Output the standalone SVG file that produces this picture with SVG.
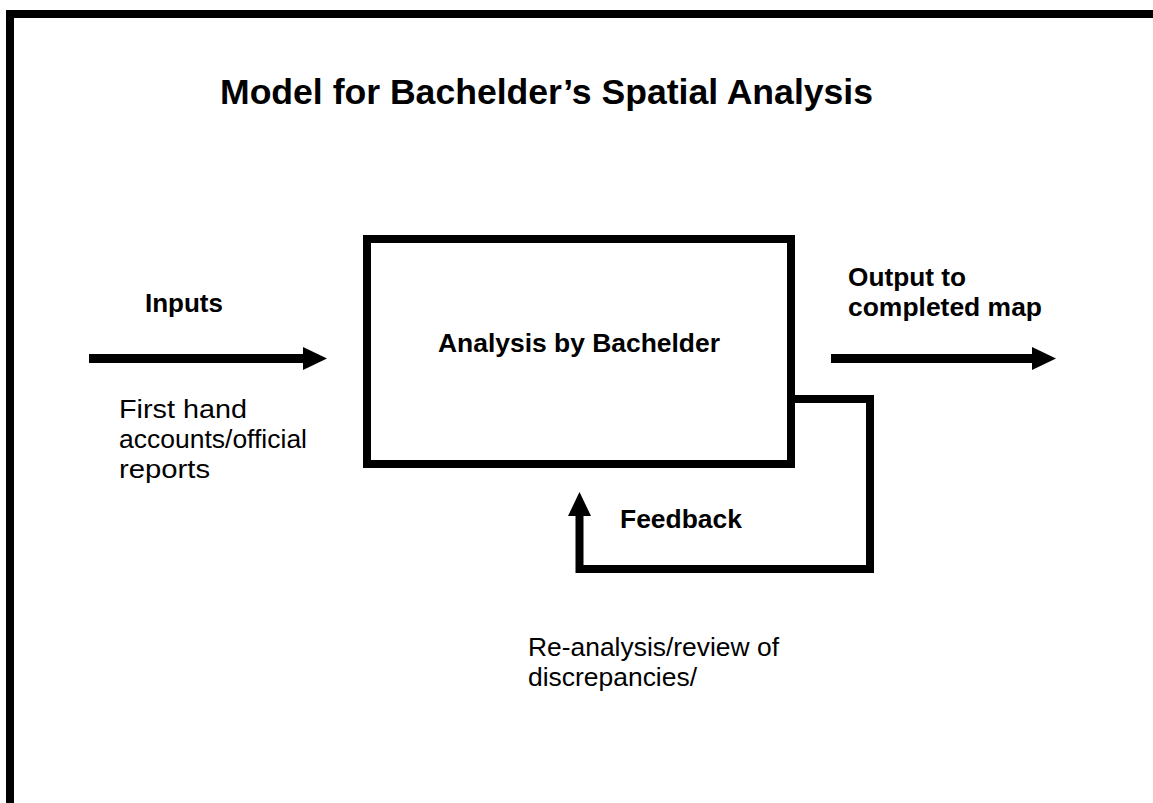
<svg xmlns="http://www.w3.org/2000/svg" width="1153" height="803" viewBox="0 0 1153 803">
  <style>
    .frame { fill: #000; }
    .box { fill: #fff; stroke: #000; stroke-width: 8; }
    .flow { fill: none; stroke: #000; stroke-width: 9; }
    .loop { fill: none; stroke: #000; stroke-width: 8; stroke-linejoin: miter; }
    .bold { font-family: "Liberation Sans", Arial, sans-serif; font-weight: bold; fill: #000; font-size: 26px; }
    .plain { font-family: "Liberation Sans", Arial, sans-serif; font-weight: normal; fill: #000; font-size: 26px; }
    .heading { font-family: "Liberation Sans", Arial, sans-serif; font-weight: bold; fill: #000; font-size: 35px; }
  </style>
  <defs>
    <marker id="head" markerUnits="userSpaceOnUse" markerWidth="24" markerHeight="24" refX="12" refY="12" orient="auto">
      <path d="M0,0.5 L24,12 L0,23.5 Z" fill="#000"/>
    </marker>
  </defs>

  <rect width="1153" height="803" fill="#fff"/>

  <!-- page frame: top and left rules -->
  <g id="frame">
    <rect class="frame" x="6" y="10" width="1147" height="8"/>
    <rect class="frame" x="6" y="10" width="8" height="793"/>
  </g>

  <g id="title">
    <text class="heading" x="220" y="104" textLength="653" lengthAdjust="spacingAndGlyphs">Model for Bachelder’s Spatial Analysis</text>
  </g>

  <g id="analysis">
    <rect class="box" x="367" y="239" width="424" height="225"/>
    <text class="bold" x="438" y="352" textLength="282" lengthAdjust="spacingAndGlyphs">Analysis by Bachelder</text>
  </g>

  <g id="inputs">
    <text class="bold" x="145" y="312" textLength="78" lengthAdjust="spacingAndGlyphs">Inputs</text>
    <text class="plain" x="119" y="418" textLength="128" lengthAdjust="spacingAndGlyphs">First hand</text>
    <text class="plain" x="119" y="448" textLength="188" lengthAdjust="spacingAndGlyphs">accounts/official</text>
    <text class="plain" x="119" y="478" textLength="91" lengthAdjust="spacingAndGlyphs">reports</text>
  </g>

  <g id="output">
    <text class="bold" x="848" y="286" textLength="118" lengthAdjust="spacingAndGlyphs">Output to</text>
    <text class="bold" x="848" y="316" textLength="194" lengthAdjust="spacingAndGlyphs">completed map</text>
  </g>

  <g id="feedback">
    <text class="bold" x="620" y="528" textLength="122" lengthAdjust="spacingAndGlyphs">Feedback</text>
    <text class="plain" x="528" y="656" textLength="251" lengthAdjust="spacingAndGlyphs">Re-analysis/review of</text>
    <text class="plain" x="528" y="686" textLength="169" lengthAdjust="spacingAndGlyphs">discrepancies/</text>
  </g>

  <g id="connectors">
    <line class="flow" x1="89" y1="358.5" x2="315" y2="358.5" marker-end="url(#head)"/>
    <line class="flow" x1="831" y1="358.5" x2="1044" y2="358.5" marker-end="url(#head)"/>
    <path class="loop" d="M791,399 H870 V569 H579.5 V504" marker-end="url(#head)"/>
  </g>
</svg>
